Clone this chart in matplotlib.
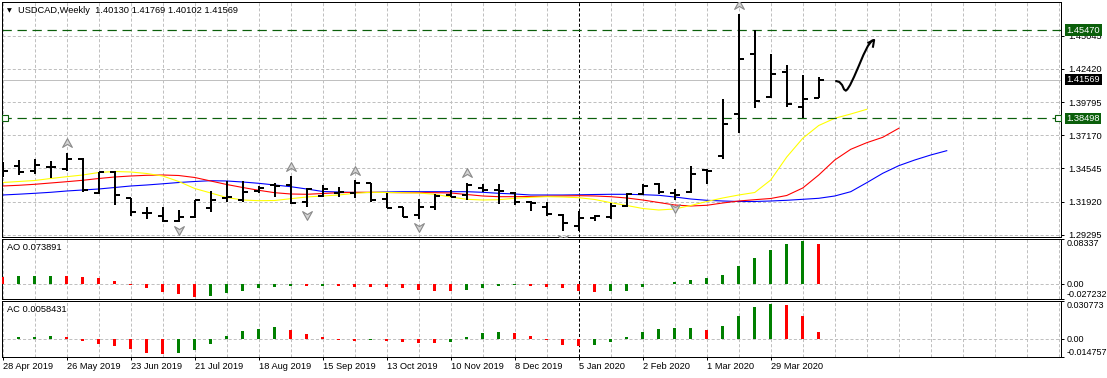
import matplotlib
matplotlib.use('Agg')
import matplotlib.pyplot as plt
import numpy as np
from matplotlib.collections import LineCollection
from matplotlib.transforms import blended_transform_factory, offset_copy
from matplotlib.ticker import FixedLocator, FixedFormatter
from matplotlib.path import Path

plt.rcParams['font.family'] = ['Liberation Sans', 'DejaVu Sans']
plt.rcParams['lines.scale_dashes'] = False

# ---------------- data ----------------
symbol = "USDCAD,Weekly"
opens = [1.34600, 1.34741, 1.34369, 1.34701, 1.34480, 1.35270, 1.32631, 1.34290, 1.32189, 1.31051,
         1.30790, 1.30419, 1.30735, 1.31422, 1.32236, 1.32054, 1.32789, 1.33240, 1.33240, 1.31920,
         1.32370, 1.32647, 1.32608, 1.33374, 1.32110, 1.31478, 1.30869, 1.31478, 1.32449, 1.32449,
         1.33003, 1.32845, 1.32631, 1.31896, 1.31501, 1.30869, 1.29977, 1.30609, 1.30711, 1.31580,
         1.32505, 1.33295, 1.32608, 1.32710, 1.34425, 1.35555, 1.38849, 1.43566, 1.40169, 1.42191,
         1.39426, 1.40130]
highs = [1.35080, 1.35215, 1.35270, 1.35136, 1.35792, 1.35349, 1.34290, 1.34369, 1.32236, 1.31525,
         1.31525, 1.31264, 1.32054, 1.32766, 1.33556, 1.33556, 1.33184, 1.33437, 1.33951, 1.32979,
         1.33240, 1.33105, 1.33635, 1.33421, 1.32584, 1.31525, 1.32110, 1.32528, 1.32845, 1.33421,
         1.33319, 1.33295, 1.32710, 1.31975, 1.31920, 1.30925, 1.31185, 1.30869, 1.31817, 1.32631,
         1.33319, 1.33374, 1.32924, 1.34741, 1.34480, 1.40034, 1.46750, 1.45520, 1.43590, 1.42721,
         1.41930, 1.41769]
lows = [1.33895, 1.34030, 1.34109, 1.33769, 1.34369, 1.32710, 1.32528, 1.31636, 1.30790, 1.30530,
        1.30340, 1.30293, 1.30609, 1.31130, 1.31920, 1.31920, 1.32608, 1.32315, 1.31738, 1.31478,
        1.32315, 1.32268, 1.32212, 1.31920, 1.31399, 1.30735, 1.30530, 1.31264, 1.32268, 1.32054,
        1.32687, 1.31738, 1.31659, 1.31185, 1.30790, 1.29580, 1.29610, 1.30419, 1.30553, 1.31525,
        1.32449, 1.32505, 1.32054, 1.32584, 1.33295, 1.35270, 1.37324, 1.39299, 1.40113, 1.39378,
        1.38498, 1.40102]
closes = [1.34369, 1.34243, 1.34820, 1.34662, 1.35270, 1.32845, 1.34243, 1.32449, 1.31083, 1.31027,
          1.30419, 1.30688, 1.32054, 1.32054, 1.32268, 1.32710, 1.33003, 1.33200, 1.31841, 1.32924,
          1.32963, 1.32726, 1.33398, 1.32054, 1.31422, 1.30735, 1.31525, 1.32370, 1.32315, 1.33279,
          1.32845, 1.32766, 1.31873, 1.31817, 1.30948, 1.30237, 1.30609, 1.30766, 1.31580, 1.32528,
          1.33161, 1.32687, 1.32449, 1.34085, 1.34385, 1.38059, 1.43195, 1.39900, 1.42009, 1.39639,
          1.40058, 1.41569]

lips = [1.33437, 1.33516, 1.33595, 1.33753, 1.33896, 1.34030, 1.34227, 1.34306, 1.34267, 1.34148,
        1.33951, 1.33516, 1.32963, 1.32608, 1.32252, 1.32055, 1.32000, 1.32015, 1.32158, 1.32292,
        1.32371, 1.32450, 1.32584, 1.32663, 1.32647, 1.32632, 1.32608, 1.32505, 1.32292, 1.32110,
        1.32055, 1.32079, 1.32189, 1.32268, 1.32316, 1.32292, 1.32237, 1.32095, 1.31842, 1.31621,
        1.31384, 1.31265, 1.31344, 1.31621, 1.31937, 1.32213, 1.32450, 1.32647, 1.33635, 1.35452,
        1.36929, 1.37941, 1.38509, 1.38849, 1.39220]
teeth = [1.33161, 1.33216, 1.33295, 1.33398, 1.33501, 1.33611, 1.33753, 1.33872, 1.33951, 1.34006,
         1.34030, 1.33990, 1.33832, 1.33556, 1.33279, 1.33042, 1.32821, 1.32632, 1.32529, 1.32505,
         1.32568, 1.32632, 1.32663, 1.32663, 1.32647, 1.32632, 1.32632, 1.32632, 1.32608, 1.32489,
         1.32371, 1.32316, 1.32316, 1.32331, 1.32355, 1.32371, 1.32395, 1.32371, 1.32316, 1.32213,
         1.32055, 1.31857, 1.31660, 1.31581, 1.31636, 1.31818, 1.31976, 1.32079, 1.32174, 1.32411,
         1.33003, 1.34030, 1.35215, 1.36060, 1.36582, 1.37008, 1.37719]
jaw = [1.32450, 1.32513, 1.32584, 1.32663, 1.32766, 1.32845, 1.32924, 1.33042, 1.33161, 1.33240,
       1.33335, 1.33437, 1.33516, 1.33580, 1.33556, 1.33477, 1.33374, 1.33240, 1.33106, 1.32924,
       1.32727, 1.32687, 1.32647, 1.32647, 1.32687, 1.32711, 1.32711, 1.32711, 1.32711, 1.32711,
       1.32663, 1.32584, 1.32529, 1.32450, 1.32450, 1.32450, 1.32466, 1.32489, 1.32505, 1.32505,
       1.32474, 1.32426, 1.32292, 1.32134, 1.32031, 1.31976, 1.31937, 1.31937, 1.31976, 1.32031,
       1.32110, 1.32189, 1.32371, 1.32711, 1.33422, 1.34164, 1.34765, 1.35215, 1.35610, 1.35950]

ao = [0.0135, 0.0140, 0.0154, 0.0155, 0.0152, 0.0135, 0.0104, 0.0061, -0.0012, -0.0080,
      -0.0154, -0.0190, -0.0233, -0.0215, -0.0172, -0.0135, -0.0080, -0.0049, -0.0031, -0.0037,
      -0.0031, -0.0045, -0.0048, -0.0052, -0.0054, -0.0080, -0.0104, -0.0123, -0.0125, -0.0104,
      -0.0068, -0.0031, -0.0025, -0.0031, -0.0049, -0.0080, -0.0123, -0.0141, -0.0139, -0.0123,
      -0.0061, 0.0005, 0.0043, 0.0080, 0.0104, 0.0172, 0.0326, 0.0485, 0.0633, 0.0745,
      0.0785, 0.073891]
ac = [-0.0005, 0.0011, 0.0017, 0.0019, 0.0011, -0.0022, -0.0041, -0.0063, -0.0088, -0.0118,
      -0.0129, -0.0118, -0.0096, -0.0044, 0.0019, 0.0060, 0.0082, 0.0093, 0.0068, 0.0036,
      0.0011, -0.0014, -0.0016, -0.0012, -0.0016, -0.0027, -0.0038, -0.0039, -0.0027, 0.0011,
      0.0047, 0.0052, 0.0047, 0.0019, -0.0014, -0.0049, -0.0060, -0.0049, -0.0027, 0.0011,
      0.0052, 0.0084, 0.0085, 0.0086, 0.0068, 0.0101, 0.0184, 0.0258, 0.0282, 0.0274,
      0.0184, 0.0058431]

date_labels = ["28 Apr 2019", "26 May 2019", "23 Jun 2019", "21 Jul 2019", "18 Aug 2019",
               "15 Sep 2019", "13 Oct 2019", "10 Nov 2019", "8 Dec 2019", "5 Jan 2020",
               "2 Feb 2020", "1 Mar 2020", "29 Mar 2020"]
date_step = 4
price_ticks = [1.29295, 1.31920, 1.34545, 1.37170, 1.39795, 1.42420, 1.45045]
price_range = (1.29155, 1.47737)
ao_range = (-0.027232, 0.08337)
ac_range = (-0.014757, 0.030773)
fractal_up = [4, 18, 22, 29, 46]
fractal_down = [11, 19, 26, 35, 42]
resistance = 1.45470
support = 1.38498
separator_bar = 36
# hand-drawn arrow (bar index, price)
arrow_bars = [52.08, 52.29, 52.46, 52.58, 52.69, 52.79, 52.96, 53.21, 53.50, 53.79, 54.07, 54.32, 54.46]
arrow_prices = [1.41456, 1.41377, 1.41140, 1.40800, 1.40690, 1.40800, 1.41140, 1.41796, 1.42641,
                1.43510, 1.44221, 1.44640, 1.44695]
arrow_head_bars = [54.10, 54.46, 54.39]
arrow_head_prices = [1.44482, 1.44695, 1.44166]

# ---------------- layout ----------------
W, H, DPI = 1107, 378, 100
fig = plt.figure(figsize=(W / DPI, H / DPI), dpi=DPI)
fig.patch.set_facecolor('white')

def px_axes(left, top, right, bottom):
    return fig.add_axes([left / W, 1 - bottom / H, (right - left) / W, (bottom - top) / H])

ax = px_axes(2, 1.5, 1061, 236.7)
ax_ao = px_axes(2, 238.7, 1061, 298.7)
ax_ac = px_axes(2, 301.3, 1061, 356.7)
axes = [ax, ax_ao, ax_ac]

XMIN, XMAX = -0.044, 66.14
FS = 6.7
FS_OSC = 6.5
GRID = dict(color='#C0C0C0', linestyle=(0, (2.2, 1.5)), linewidth=0.72)
PT = 0.72  # one pixel in points

x = np.arange(len(opens))
date_pos = np.arange(len(date_labels)) * date_step

for a in axes:
    a.set_xlim(XMIN, XMAX)
    a.set_facecolor('white')
    for s in a.spines.values():
        s.set_linewidth(PT)
        s.set_color('black')
    a.xaxis.set_major_locator(FixedLocator(date_pos))
    a.xaxis.set_minor_locator(FixedLocator(np.arange(0, 67, 2)))
    a.grid(True, which='both', axis='x', **GRID)
    a.set_axisbelow(True)
    a.yaxis.tick_right()
    a.tick_params(axis='y', which='both', direction='out', length=3 * PT, width=PT,
                  pad=3, labelsize=FS, colors='black')
    a.tick_params(axis='x', which='minor', length=0)
    a.axvline(separator_bar, color='black', linewidth=PT, linestyle=(0, (2.2, 1.5)), zorder=1.5)

for a in [ax, ax_ao]:
    a.tick_params(axis='x', which='major', length=0, labelbottom=False)

ax_ac.tick_params(axis='x', which='major', direction='out', length=3 * PT, width=PT, pad=1.5,
                  labelsize=FS)
ax_ac.xaxis.set_major_formatter(FixedFormatter(date_labels))
for lab in ax_ac.get_xticklabels():
    lab.set_horizontalalignment('left')

# ---------------- main panel ----------------
ax.set_ylim(*price_range)
ax.set_yticks(price_ticks)
ax.set_yticklabels([f"{p:.5f}" for p in price_ticks])
ax.grid(True, axis='y', **GRID)

ax.plot(np.arange(len(jaw)), jaw, color='#0000FF', linewidth=PT * 1.1, zorder=2)
ax.plot(np.arange(len(teeth)), teeth, color='#FF0000', linewidth=PT * 1.1, zorder=2)
ax.plot(np.arange(len(lips)), lips, color='#FFFF00', linewidth=PT * 1.1, zorder=2)

segs = []
tick = 0.3
for i in range(len(opens)):
    segs.append([(x[i], lows[i]), (x[i], highs[i])])
    segs.append([(x[i] - tick, opens[i]), (x[i], opens[i])])
    segs.append([(x[i], closes[i]), (x[i] + tick, closes[i])])
ax.add_collection(LineCollection(segs, colors='black', linewidths=2 * PT, capstyle='butt', zorder=3))

ax.axhline(closes[-1], color='#C0C0C0', linewidth=PT, zorder=1.8)
for lvl in (resistance, support):
    ax.axhline(lvl, color='#0B5F0B', linewidth=PT * 1.2, linestyle=(0, (6.7, 4.1)), zorder=2.2)
btrans = blended_transform_factory(ax.transAxes, ax.transData)
ax.plot([0.003, 0.9975], [support, support], linestyle='none', marker='s', markersize=4,
        markerfacecolor='white', markeredgecolor='#0B5F0B', markeredgewidth=0.8,
        transform=btrans, clip_on=False, zorder=4)

# fractal arrows
up_path = Path([(0, 1), (1, -0.8), (0, -0.2), (-1, -0.8), (0, 1)],
               [Path.MOVETO, Path.LINETO, Path.LINETO, Path.LINETO, Path.CLOSEPOLY])
down_path = Path([(0, -1), (1, 0.8), (0, 0.2), (-1, 0.8), (0, -1)],
                 [Path.MOVETO, Path.LINETO, Path.LINETO, Path.LINETO, Path.CLOSEPOLY])
up_tr = offset_copy(ax.transData, fig=fig, x=0, y=6.8, units='points')
dn_tr = offset_copy(ax.transData, fig=fig, x=0, y=-5.8, units='points')
ax.plot(fractal_up, [highs[i] for i in fractal_up], linestyle='none', marker=up_path,
        markersize=7, markerfacecolor='#D4D4D4', markeredgecolor='#8A8A8A',
        markeredgewidth=0.8, transform=up_tr, zorder=3.5)
ax.plot(fractal_down, [lows[i] for i in fractal_down], linestyle='none', marker=down_path,
        markersize=7, markerfacecolor='#D4D4D4', markeredgecolor='#8A8A8A',
        markeredgewidth=0.8, transform=dn_tr, zorder=3.5)

# hand-drawn arrow
ax.plot(arrow_bars, arrow_prices, color='black', linewidth=1.5, solid_capstyle='round', zorder=4)
ax.plot(arrow_head_bars, arrow_head_prices, color='black', linewidth=1.5,
        solid_joinstyle='miter', zorder=4)

# price boxes on the right
lab_x = 1 + 5.5 / 1059
for val, bg in ((resistance, '#0B5F0B'), (closes[-1], 'black'), (support, '#0B5F0B')):
    ax.text(lab_x, val, f"{val:.5f}", transform=btrans, ha='left', va='center', fontsize=FS,
            color='white', clip_on=False, zorder=10,
            bbox=dict(boxstyle='square,pad=0.15', facecolor=bg, edgecolor='none'))

# header
fig.text(7 / W, 1 - 10.5 / H, '\u25BC', fontsize=4.5, va='center', ha='left', color='black',
         family=['DejaVu Sans'])
fig.text(18 / W, 1 - 10.7 / H,
         f"{symbol}  {opens[-1]:.5f} {highs[-1]:.5f} {lows[-1]:.5f} {closes[-1]:.5f}",
         fontsize=FS, va='center', ha='left', color='black')

# ---------------- oscillators ----------------
def osc(a, vals, rng, name, fmt_top, fmt_bot, decimals):
    cols = ['#FF0000'] + ['#008000' if vals[i] > vals[i - 1] else '#FF0000'
                          for i in range(1, len(vals))]
    a.bar(np.arange(len(vals)), vals, width=0.19, color=cols, zorder=3)
    a.set_ylim(*rng)
    a.axhline(0, zorder=1, **GRID)
    a.set_yticks([rng[0], 0, rng[1]])
    a.set_yticklabels([fmt_bot, "0.00", fmt_top])
    a.tick_params(axis='y', labelsize=FS_OSC, pad=2)
    labs = a.get_yticklabels()
    labs[0].set_verticalalignment('bottom')
    labs[2].set_verticalalignment('top')
    a.text(5.3 / 1059, 1 - 8.5 / (a.bbox.height), f"{name} {vals[-1]:.{decimals}f}",
           transform=a.transAxes, fontsize=FS, ha='left', va='center')

osc(ax_ao, ao, ao_range, 'AO', f"{ao_range[1]:.5f}", f"{ao_range[0]:.6f}", 6)
osc(ax_ac, ac, ac_range, 'AC', f"{ac_range[1]:.6f}", f"{ac_range[0]:.6f}", 7)

fig.savefig('out.png', dpi=DPI, facecolor='white')
